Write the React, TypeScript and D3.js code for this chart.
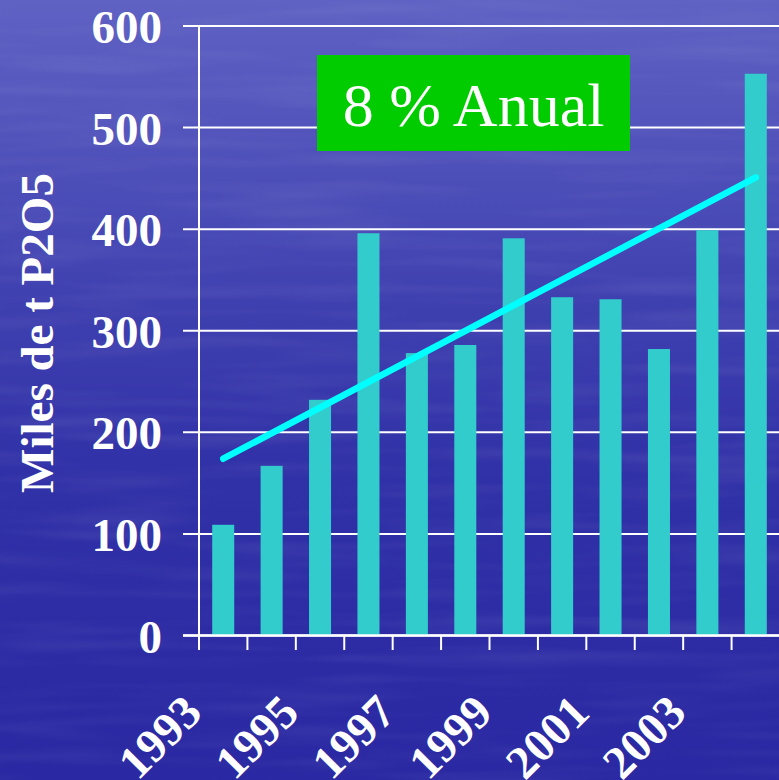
import React from "react";
import * as d3 from "d3";

// Annual production, thousands of tonnes P2O5
const years = ["1993", "1994", "1995", "1996", "1997", "1998", "1999", "2000", "2001", "2002", "2003", "2004"];
const production = [109, 167, 232, 396, 278, 286, 391, 333, 331, 282, 399, 553];

// Linear trend drawn between the first and last year
const trendYears = ["1993", "2004"];
const trendValues = [174, 451];

const yTicks = [0, 100, 200, 300, 400, 500, 600];
const labelYears = ["1993", "1995", "1997", "1999", "2001", "2003"];

const W = 779;
const H = 780;
const FONT = "'Liberation Serif', 'Times New Roman', serif";

export default function App() {
  const x = d3
    .scaleBand<string>()
    .domain(years)
    .range([199, 780])
    .paddingInner(0.545)
    .paddingOuter(0.2725);
  const y = d3.scaleLinear().domain([0, 600]).range([635.5, 26]);
  const step = x.step();
  const center = (yr: string) => (x(yr) as number) + x.bandwidth() / 2;

  const trendLine = d3
    .line<number>()
    .x((_, i) => center(trendYears[i]))
    .y((v) => y(v));

  const tickXs = d3.range(years.length + 1).map((i) => 199 + i * step);

  return (
    <svg
      width={W}
      height={H}
      style={{ position: "fixed", left: 0, top: 0, display: "block" }}
    >
      <defs>
        <linearGradient id="sea" x1="0" y1="0" x2="0" y2="1">
          <stop offset="0" stopColor="#5f61c3" />
          <stop offset="0.18" stopColor="#5153bb" />
          <stop offset="0.4" stopColor="#3e3faf" />
          <stop offset="0.62" stopColor="#3030a7" />
          <stop offset="1" stopColor="#2a28a2" />
        </linearGradient>
        <filter id="ripples" x="0" y="0" width="100%" height="100%">
          <feTurbulence type="fractalNoise" baseFrequency="0.005 0.06" numOctaves="2" seed="4" />
          <feColorMatrix
            type="matrix"
            values="0 0 0 0 1  0 0 0 0 1  0 0 0 0 1  0 0 0 0.5 -0.22"
          />
        </filter>
      </defs>

      <rect x={0} y={0} width={W} height={H} fill="url(#sea)" />
      <rect x={0} y={0} width={W} height={H} filter="url(#ripples)" opacity={0.3} />

      {/* horizontal gridlines with left ticks */}
      {yTicks.map((t) => (
        <line
          key={`g${t}`}
          x1={183}
          x2={W}
          y1={y(t)}
          y2={y(t)}
          stroke="#ffffff"
          strokeWidth={2}
        />
      ))}

      {/* y axis */}
      <line x1={199} x2={199} y1={y(600)} y2={650} stroke="#ffffff" strokeWidth={2} />

      {/* x ticks at category boundaries */}
      {tickXs.map((tx, i) => (
        <line key={`t${i}`} x1={tx} x2={tx} y1={y(0)} y2={650} stroke="#ffffff" strokeWidth={2} />
      ))}

      {/* bars */}
      {years.map((yr, i) => (
        <rect
          key={yr}
          x={x(yr)}
          y={y(production[i])}
          width={x.bandwidth()}
          height={y(0) - y(production[i])}
          fill="#33cccc"
        />
      ))}

      {/* baseline over bars */}
      <line x1={183} x2={W} y1={y(0)} y2={y(0)} stroke="#ffffff" strokeWidth={2.5} />

      {/* trend */}
      <path
        d={trendLine(trendValues) || ""}
        fill="none"
        stroke="#00ffff"
        strokeWidth={6.5}
        strokeLinecap="round"
      />

      {/* y tick labels */}
      {yTicks.map((t) => (
        <text
          key={`l${t}`}
          x={162}
          y={y(t) + 17}
          textAnchor="end"
          fill="#ffffff"
          fontFamily={FONT}
          fontWeight="bold"
          fontSize={47}
        >
          {t}
        </text>
      ))}

      {/* x labels */}
      {labelYears.map((yr) => {
        const ax = center(yr) - 19;
        const ay = 715;
        return (
          <text
            key={`x${yr}`}
            x={ax}
            y={ay}
            transform={`rotate(-45 ${ax} ${ay})`}
            textAnchor="end"
            fill="#ffffff"
            fontFamily={FONT}
            fontWeight="bold"
            fontSize={47}
          >
            {yr}
          </text>
        );
      })}

      {/* y title */}
      <text
        x={53}
        y={333}
        transform="rotate(-90 53 333)"
        textAnchor="middle"
        fill="#ffffff"
        fontFamily={FONT}
        fontWeight="bold"
        fontSize={47}
      >
        Miles de t P2O5
      </text>

      {/* growth rate badge */}
      <rect x={317} y={55} width={313} height={96} fill="#00cc00" />
      <text
        x={473.5}
        y={126}
        textAnchor="middle"
        fill="#ffffff"
        fontFamily={FONT}
        fontSize={62}
      >
        8 % Anual
      </text>
    </svg>
  );
}
